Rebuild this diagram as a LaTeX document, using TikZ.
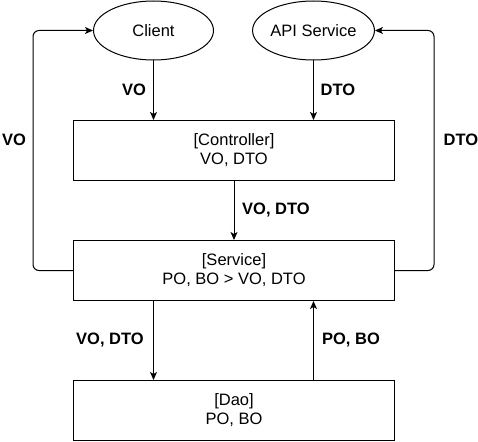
\documentclass[tikz,border=0pt]{standalone}
\usepackage{fontspec}
\setmainfont{Liberation Sans}
\usetikzlibrary{shapes.geometric}
\usetikzlibrary{positioning}
\usetikzlibrary{arrows.meta}
\tikzset{every picture/.style={line width=1pt}}

\begin{document}
\begin{tikzpicture}[
            x=1pt, y=-1pt,
            font=\fontsize{16.5}{19}\selectfont,
            actor/.style={ellipse, draw, minimum width=120pt, minimum height=59pt, inner sep=0pt},
            layer/.style={rectangle, draw, minimum width=321pt, minimum height=60pt, align=center},
            flow/.style={draw, -{Stealth[length=8pt,width=7pt,inset=2pt]}, rounded corners=6pt},
            tag/.style={font=\fontsize{16.5}{19}\selectfont\bfseries}
        ]
        \useasboundingbox (0,0) rectangle (478,441);

        % Outside actors
        \node[actor] (client) at (153.5,30.5) {Client};
        \node[actor] (api) at (313.5,30.5) {API Service};

        % Layers
        \node[layer] (ctrl) at (234,150.5) {[Controller]\\VO, DTO};
        \node[layer] (service) at (234,270.5) {[Service]\\PO, BO > VO, DTO};
        \node[layer] (dao) at (234,410.5) {[Dao]\\PO, BO};

        % Data flowing down
        \draw[flow] (client.south) -- (client.south |- ctrl.north);
        \draw[flow] (api.south) -- (api.south |- ctrl.north);
        \draw[flow] (ctrl.south) -- (service.north);
        \draw[flow] (service.south -| client) -- (dao.north -| client);
        \draw[flow] (dao.north -| api) -- (service.south -| api);

        % Results going back
        \draw[flow] (service.west) -- ++(-40,0) |- (client.west);
        \draw[flow] (service.east) -- ++(39,0) |- (api.east);

        % Labels
        \node[tag] (vo1) at (134,90) {VO};
        \node[tag] (dto1) at (338,90) {DTO};
        \node[tag] (vo2) at (14,140) {VO};
        \node[tag] (dto2) at (461,140) {DTO};
        \node[tag] (vodto1) at (276,210) {VO, DTO};
        \node[tag] (vodto2) at (110,340) {VO, DTO};
        \node[tag] (pobo) at (351,340) {PO, BO};

    \end{tikzpicture}
\end{document}
